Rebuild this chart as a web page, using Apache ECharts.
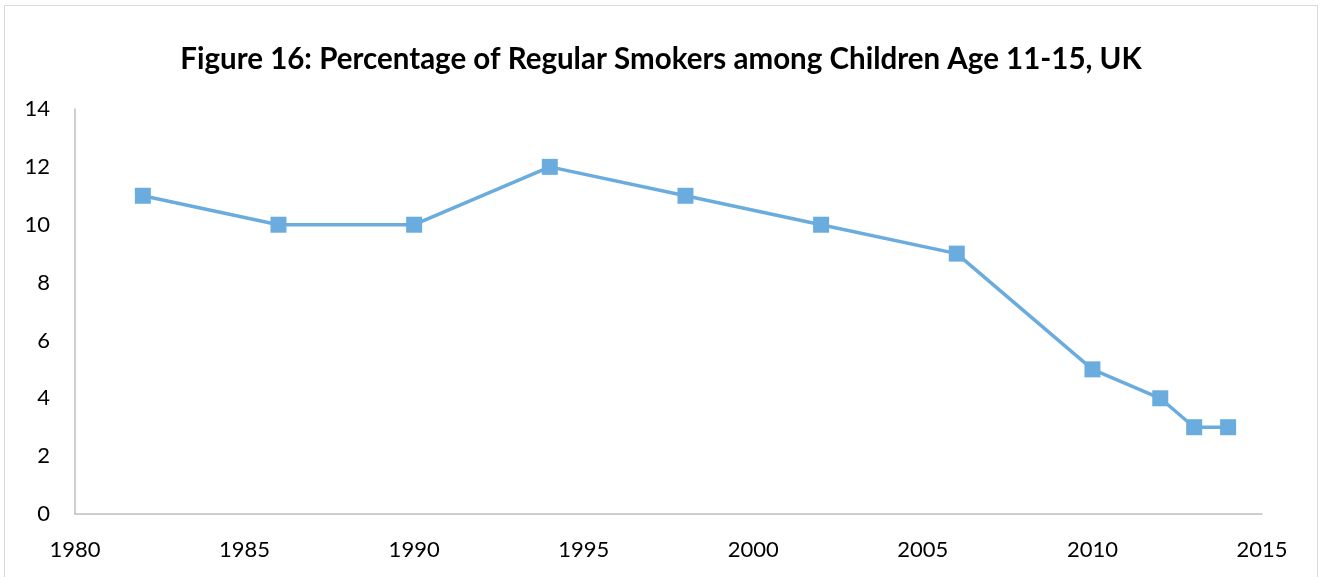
<!DOCTYPE html>
<html><head><meta charset="utf-8">
<script src="https://cdn.jsdelivr.net/npm/echarts@6/dist/echarts.min.js"></script>
<style>html,body{margin:0;padding:0;background:#fff}#c{width:1322px;height:577px}</style>
</head><body><div id="c"></div>
<script>
const years = [1982, 1986, 1990, 1994, 1998, 2002, 2006, 2010, 2012, 2013, 2014];
const smokers = [11, 10, 10, 12, 11, 10, 9, 5, 4, 3, 3];
const titleText = 'Figure 16: Percentage of Regular Smokers among Children Age 11-15, UK';
const font = 'Lato, "Open Sans", sans-serif';
const chart = echarts.init(document.getElementById('c'));
chart.setOption({
  backgroundColor: '#fff',
  animation: false,
  graphic: [{type:'rect', shape:{x:4.5,y:5.5,width:1313,height:580}, style:{fill:'none', stroke:'#d9d9d9', lineWidth:1}}],
  title: {text: titleText, left: 'center', top: 39,
    textStyle:{fontFamily: font, fontWeight:'bold', fontSize:29.5, color:'#000'}},
  grid: {left: 75, right: 60, top: 109, bottom: 63},
  xAxis: {type:'value', min:1980, max:2015, interval:5,
    axisLine:{show:true, lineStyle:{color:'#bfbfbf', width:1.5}},
    axisTick:{show:false}, splitLine:{show:false},
    axisLabel:{fontFamily:font, fontSize:22, color:'#000', margin:25, formatter: v => String(v)}},
  yAxis: {type:'value', min:0, max:14, interval:2,
    axisLine:{show:true, lineStyle:{color:'#bfbfbf', width:1.5}},
    axisTick:{show:false}, splitLine:{show:false},
    axisLabel:{fontFamily:font, fontSize:22, color:'#000', margin:25}},
  series: [{type:'line', data: years.map((y,i)=>[y, smokers[i]]),
    symbol:'rect', symbolSize:16,
    lineStyle:{color:'#6aacde', width:3.5},
    itemStyle:{color:'#6aacde'}}]
});
</script></body></html>
